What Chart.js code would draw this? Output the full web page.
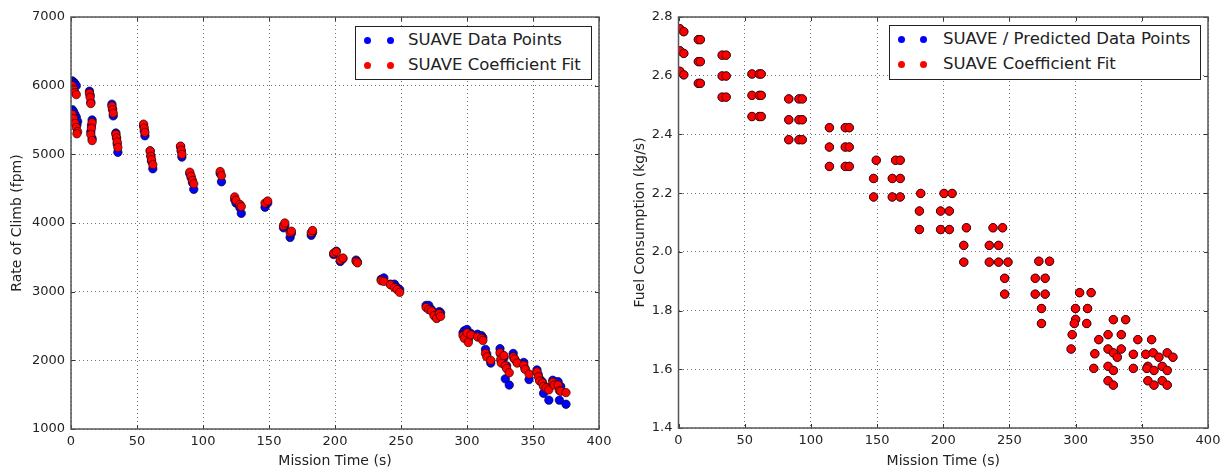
<!DOCTYPE html>
<html>
<head>
<meta charset="utf-8">
<script src="https://cdn.jsdelivr.net/npm/chart.js@4.4.1/dist/chart.umd.min.js"></script>
<style>
  html, body { margin:0; padding:0; background:#fff; }
  body { width:1225px; height:470px; position:relative; overflow:hidden; font-family:"DejaVu Sans", sans-serif; }
  .wrap { position:absolute; top:0; height:470px; }
  .legend { position:absolute; background:#fff; border:1px solid #222; box-sizing:border-box; font-size:16.5px; color:#222; }
  .row { position:absolute; left:0; height:20px; white-space:nowrap; }
  .dot { position:absolute; width:7px; height:7px; border-radius:50%; }
  .lbl { position:absolute; line-height:20px; top:0; }
</style>
</head>
<body>
<div class="wrap" style="left:0;width:612px;"><canvas id="c1"></canvas></div>
<div class="wrap" style="left:612px;width:613px;"><canvas id="c2"></canvas></div>

<div class="legend" style="left:355px;top:26px;width:237px;height:54px;">
  <div class="row" style="top:3px;width:235px;">
    <span class="dot" style="left:8px;top:7px;background:#0000ff"></span>
    <span class="dot" style="left:31px;top:7px;background:#0000ff"></span>
    <span class="lbl" style="left:52px;">SUAVE Data Points</span>
  </div>
  <div class="row" style="top:28px;width:235px;">
    <span class="dot" style="left:8px;top:7px;background:#ff0000"></span>
    <span class="dot" style="left:31px;top:7px;background:#ff0000"></span>
    <span class="lbl" style="left:52px;">SUAVE Coefficient Fit</span>
  </div>
</div>
<div class="legend" style="left:889px;top:25px;width:312px;height:55px;">
  <div class="row" style="top:3px;width:310px;">
    <span class="dot" style="left:8px;top:7px;background:#0000ff"></span>
    <span class="dot" style="left:30px;top:7px;background:#0000ff"></span>
    <span class="lbl" style="left:53px;">SUAVE / Predicted Data Points</span>
  </div>
  <div class="row" style="top:28px;width:310px;">
    <span class="dot" style="left:8px;top:7px;background:#ff0000"></span>
    <span class="dot" style="left:30px;top:7px;background:#ff0000"></span>
    <span class="lbl" style="left:53px;">SUAVE Coefficient Fit</span>
  </div>
</div>

<script>
// ---------- Data: Rate of climb (left panel) ----------
const climbTime = [
  1,2,3,4, 1,2,3,4,5,4.5,
  14,14.5,15, 16,15.5,15,16,
  31,31.5,32, 34,34.5,35,35.5,
  55,55.5,56, 60,60.5,61,62,
  83,83.5,84,
  90,91,92,93,
  113,114,
  124,125,128,129,
  147,149,
  161,162,166,167,
  182,183,
  199,201,204,206,
  216,217,
  235,237,242,245,247,249,
  269,271,273,275,277,279,280,
  297,298,300,301,303,308,311,312,
  314,315,318,
  325,325.5,326,328,329,330,332,
  335,336,338,
  343,344,347,
  353,354,355,357,358,360,362,
  365,366,369,370,371,375
];
const climbData = [
  6070,6050,6030,6000, 5650,5620,5580,5540,5480,5430,
  5920,5860,5760, 5500,5420,5330,5230,
  5730,5660,5560, 5310,5240,5150,5030,
  5410,5340,5270, 5050,4980,4900,4790,
  5110,5050,4960,
  4720,4660,4590,4490,
  4720,4600,
  4340,4290,4220,4140,
  4230,4290,
  3930,3960,3790,3850,
  3820,3860,
  3540,3590,3440,3480,
  3460,3430,
  3180,3200,3110,3110,3060,3030,
  2800,2800,2740,2690,2620,2710,2690,
  2400,2430,2450,2300,2390,2380,2360,2330,
  2160,2090,1960,
  2170,2090,1990,2040,1730,1920,1640,
  2100,2020,1970,
  1970,1880,1720,
  1860,1790,1730,1690,1520,1610,1420,
  1710,1650,1690,1420,1620,1360
];
const climbFit = [
  6000,5950,5900,5870, 5580,5520,5450,5390,5330,5300,
  5890,5830,5740, 5460,5380,5290,5200,
  5700,5650,5600, 5290,5240,5180,5100,
  5440,5380,5320, 5050,4970,4920,4850,
  5120,5060,5000,
  4740,4680,4620,4570,
  4750,4690,
  4380,4330,4270,4240,
  4290,4320,
  3960,4000,3860,3880,
  3860,3890,
  3560,3580,3460,3490,
  3440,3420,
  3160,3150,3100,3060,3030,2990,
  2770,2740,2720,2650,2610,2680,2640,
  2360,2320,2400,2260,2370,2340,2320,2290,
  2100,2050,2000,
  2110,2010,1960,2070,1920,1880,1820,
  2050,2020,1960,
  1930,1870,1800,
  1830,1760,1700,1670,1620,1600,1570,
  1680,1640,1640,1560,1550,1530
];
const climbYTicks = [1000,2000,3000,4000,5000,6000,7000];

// ---------- Data: Fuel consumption (right panel) ----------
const fuelTime = [
  1,1,1, 4,4,4,
  15,15,15, 16.5,16.5,16.5,
  33,33,33, 36,36,36,
  55.5,55.5,55.5, 61,61,61, 62.5,62.5,62.5,
  83.3,83.3,83.3, 91,91,91, 93.5,93.5,93.5,
  114,114,114, 126,126,126, 129,129,129,
  149.4, 147.4,147.4,
  164, 161.5,161.5, 167.5,167.5,167.5,
  183, 182,182,
  200.6, 198,198,
  206.7, 204.6,204.6,
  217.5, 215.5,215.5,
  237.6, 234.8,234.8,
  244.8, 241.8,241.8,
  248.9, 246.4,246.4,
  272.2, 269.5,269.5,
  274.2,274.2,
  280.3, 277,277,
  303, 311.7, 299.9, 309, 300, 299, 308.4, 297.4, 296.6,
  317.5, 314.5, 313.7,
  324.5,324.5,324.5,324.5,
  328.5,328.5,328.5,328.5,
  331.5, 334.5,334.5, 337.8,
  343.6,343.6, 347,
  353, 354.6,354.6, 353.8,
  357.4, 358.6, 359.2,359.2,
  362.9, 365.4,365.4,
  369.2,369.2,369.2, 373.5
];
const fuelFit = [
  2.760,2.685,2.615, 2.750,2.676,2.603,
  2.723,2.648,2.574, 2.723,2.648,2.574,
  2.670,2.599,2.527, 2.670,2.599,2.527,
  2.606,2.533,2.461, 2.606,2.533,2.461, 2.606,2.533,2.461,
  2.521,2.450,2.382, 2.521,2.450,2.382, 2.521,2.450,2.382,
  2.423,2.357,2.291, 2.423,2.357,2.291, 2.423,2.357,2.291,
  2.312, 2.250,2.187,
  2.312, 2.250,2.187, 2.312,2.250,2.187,
  2.199, 2.139,2.076,
  2.199, 2.139,2.076,
  2.199, 2.139,2.076,
  2.082, 2.022,1.965,
  2.082, 2.022,1.965,
  2.082, 2.022,1.965,
  1.965, 1.910,1.856,
  1.968, 1.910,1.856,
  1.807,1.756,
  1.968, 1.910,1.856,
  1.861, 1.861, 1.807, 1.807, 1.770, 1.756, 1.756, 1.718, 1.669,
  1.701, 1.653, 1.603,
  1.718,1.669,1.610,1.561,
  1.769,1.656,1.596,1.546,
  1.641, 1.718,1.669, 1.769,
  1.651,1.603, 1.701,
  1.651, 1.610,1.561, 1.603,
  1.701, 1.656, 1.596,1.546,
  1.641, 1.610,1.561,
  1.656,1.596,1.546, 1.641
];
// Predicted points coincide with the fit (hidden under the red markers)
const fuelPredicted = fuelFit.slice();
const fuelYTicks = [1.4,1.6,1.8,2.0,2.2,2.4,2.6,2.8];
const timeTicks = [0,50,100,150,200,250,300,350,400];

// ---------- helpers ----------
const pts = (xs, ys) => xs.map((x, i) => ({x, y: ys[i]}));
const FONT = "'DejaVu Sans', sans-serif";
Chart.defaults.font.family = FONT;
Chart.defaults.color = '#222';

const framePlugin = {
  id: 'frame',
  afterDraw(chart) {
    const {ctx, chartArea: a, scales} = chart;
    ctx.save();
    ctx.strokeStyle = '#333';
    ctx.lineWidth = 1;
    scales.x.ticks.forEach(t => {
      const px = Math.round(scales.x.getPixelForValue(t.value)) + 0.5;
      ctx.beginPath();
      ctx.moveTo(px, a.bottom); ctx.lineTo(px, a.bottom - 4);
      ctx.moveTo(px, a.top); ctx.lineTo(px, a.top + 4);
      ctx.stroke();
    });
    scales.y.ticks.forEach(t => {
      const py = Math.round(scales.y.getPixelForValue(t.value)) + 0.5;
      ctx.beginPath();
      ctx.moveTo(a.left, py); ctx.lineTo(a.left + 4, py);
      ctx.moveTo(a.right, py); ctx.lineTo(a.right - 4, py);
      ctx.stroke();
    });
    ctx.strokeStyle = '#555';
    ctx.lineWidth = 1.5;
    ctx.strokeRect(a.left, a.top, a.right - a.left, a.bottom - a.top);
    ctx.restore();
  }
};

function makeChart(id, cfg) {
  return new Chart(document.getElementById(id), {
    type: 'scatter',
    data: {
      datasets: [
        { label: 'SUAVE Coefficient Fit', data: cfg.fit, backgroundColor: '#ff0000',
          borderColor: '#2a0000', pointBorderWidth: 0.7, pointRadius: 4.2, pointHoverRadius: 4.2 },
        { label: cfg.dataLabel, data: cfg.dat, backgroundColor: '#0000ff',
          borderColor: '#00002a', pointBorderWidth: 0.7, pointRadius: 4.2, pointHoverRadius: 4.2 }
      ]
    },
    options: {
      responsive: false, animation: false, devicePixelRatio: 1,
      layout: { padding: { top: cfg.top, right: cfg.right, left: 0, bottom: 0 } },
      plugins: { legend: { display: false }, tooltip: { enabled: false } },
      scales: {
        x: {
          type: 'linear', min: 0, max: 400,
          afterBuildTicks: s => { s.ticks = timeTicks.map(v => ({value: v})); },
          afterFit: s => { s.height = cfg.xh; s.paddingLeft = 0; s.paddingRight = 0; },
          ticks: { font: { size: 13 }, color: '#222', padding: 5, maxRotation: 0 },
          grid: { color: 'rgba(0,0,0,0.55)', drawTicks: false, lineWidth: 1 },
          border: { display: false, dash: [1, 3] },
          title: { display: true, text: 'Mission Time (s)', font: { size: 14 }, color: '#222', padding: { top: 2, bottom: 0 } }
        },
        y: {
          type: 'linear', min: cfg.ymin, max: cfg.ymax,
          afterBuildTicks: s => { s.ticks = cfg.yTicks.map(v => ({value: v})); },
          afterFit: s => { s.width = cfg.yw; s.paddingTop = 0; s.paddingBottom = 0; },
          ticks: { font: { size: 13 }, color: '#222', padding: 6, callback: cfg.fmt },
          grid: { color: 'rgba(0,0,0,0.55)', drawTicks: false, lineWidth: 1 },
          border: { display: false, dash: [1, 3] },
          title: { display: true, text: cfg.yTitle, font: { size: 14 }, color: '#222', padding: { top: cfg.ytp, bottom: 4 } }
        }
      }
    },
    plugins: [framePlugin]
  });
}

const c1 = document.getElementById('c1'); c1.width = 612; c1.height = 470;
const c2 = document.getElementById('c2'); c2.width = 613; c2.height = 470;

makeChart('c1', {
  fit: pts(climbTime, climbFit), dat: pts(climbTime, climbData),
  dataLabel: 'SUAVE Data Points',
  ymin: 1000, ymax: 7000, yTicks: climbYTicks, yTitle: 'Rate of Climb (fpm)',
  fmt: v => String(v), top: 17, right: 13, xh: 41, yw: 71, ytp: 9
});
makeChart('c2', {
  fit: pts(fuelTime, fuelFit), dat: pts(fuelTime, fuelPredicted),
  dataLabel: 'SUAVE / Predicted Data Points',
  ymin: 1.4, ymax: 2.8, yTicks: fuelYTicks, yTitle: 'Fuel Consumption (kg/s)',
  fmt: v => Number(v).toFixed(1), top: 17, right: 17, xh: 42, yw: 66.5, ytp: 20
});
</script>
</body>
</html>
